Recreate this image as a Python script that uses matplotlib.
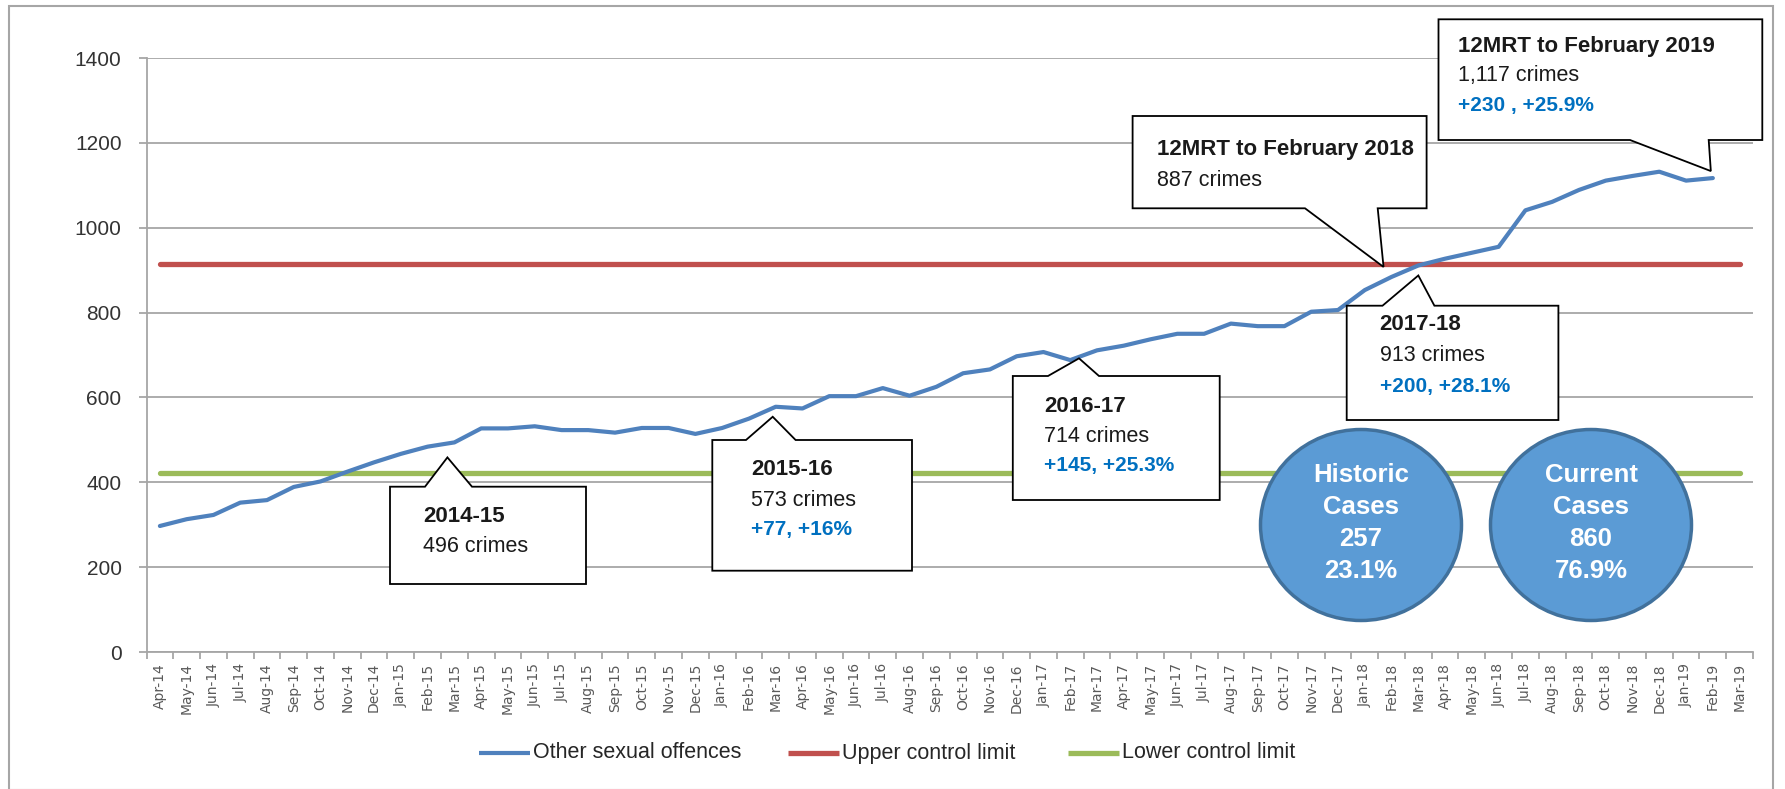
import matplotlib.pyplot as plt
from matplotlib.patches import Polygon, Ellipse, Rectangle
from matplotlib.lines import Line2D

plt.rcParams['font.family'] = ['Liberation Sans', 'DejaVu Sans']

# Monthly 12-month rolling totals, Other sexual offences
months = ['Apr-14', 'May-14', 'Jun-14', 'Jul-14', 'Aug-14', 'Sep-14', 'Oct-14', 'Nov-14', 'Dec-14',
          'Jan-15', 'Feb-15', 'Mar-15', 'Apr-15', 'May-15', 'Jun-15', 'Jul-15', 'Aug-15', 'Sep-15',
          'Oct-15', 'Nov-15', 'Dec-15', 'Jan-16', 'Feb-16', 'Mar-16', 'Apr-16', 'May-16', 'Jun-16',
          'Jul-16', 'Aug-16', 'Sep-16', 'Oct-16', 'Nov-16', 'Dec-16', 'Jan-17', 'Feb-17', 'Mar-17',
          'Apr-17', 'May-17', 'Jun-17', 'Jul-17', 'Aug-17', 'Sep-17', 'Oct-17', 'Nov-17', 'Dec-17',
          'Jan-18', 'Feb-18', 'Mar-18', 'Apr-18', 'May-18', 'Jun-18', 'Jul-18', 'Aug-18', 'Sep-18',
          'Oct-18', 'Nov-18', 'Dec-18', 'Jan-19', 'Feb-19', 'Mar-19']
offences = [297, 313, 323, 352, 358, 389, 402, 425, 447,
            467, 484, 494, 527, 527, 532, 523, 523, 517,
            528, 528, 514, 528, 550, 578, 574, 603, 603,
            622, 604, 625, 657, 666, 697, 707, 688, 711,
            722, 737, 750, 750, 774, 768, 768, 802, 806,
            853, 884, 911, 927, 941, 955, 1041, 1061, 1089,
            1111, 1122, 1132, 1111, 1117]
UCL = 914
LCL = 423

callout_months = ['Mar-15', 'Mar-16', 'Mar-17', 'Mar-18', 'Feb-18', 'Feb-19']
callout_titles = ['2014-15', '2015-16', '2016-17', '2017-18',
                  '12MRT to February 2018', '12MRT to February 2019']
callout_counts = ['496 crimes', '573 crimes', '714 crimes', '913 crimes', '887 crimes', '1,117 crimes']
callout_changes = ['', '+77, +16%', '+145, +25.3%', '+200, +28.1%', '', '+230 , +25.9%']

bubble_labels = [['Historic', 'Cases'], ['Current', 'Cases']]
bubble_counts = ['257', '860']
bubble_shares = ['23.1%', '76.9%']

W, H = 1785, 789


def fxy(x, y):
    # pixel (top-left origin) -> figure fraction
    return (x / W, 1 - y / H)


fig = plt.figure(figsize=(W / 100, H / 100), dpi=100)
fig.patch.set_facecolor('white')
fig.add_artist(Rectangle(fxy(9, 790), (1773 - 9) / W, (790 - 6) / H, transform=fig.transFigure,
                         fill=False, ec='#a6a6a6', lw=1.5))

ax = fig.add_axes([146.5 / W, 1 - 652 / H, (1753 - 146.5) / W, (652 - 58) / H])

x_all = list(range(len(months)))
x_obs = list(range(len(offences)))
l_ucl, = ax.plot(x_all, [UCL] * len(months), color='#C0504D', lw=3.8,
                 solid_capstyle='round', label='Upper control limit', zorder=3)
l_lcl, = ax.plot(x_all, [LCL] * len(months), color='#9BBB59', lw=3.8,
                 solid_capstyle='round', label='Lower control limit', zorder=3)
l_off, = ax.plot(x_obs, offences, color='#4F81BD', lw=3.0, solid_joinstyle='round',
                 solid_capstyle='round', label='Other sexual offences', zorder=4)

ax.set_xlim(-0.5, len(months) - 0.5)
ax.set_ylim(0, 1400)
ax.set_yticks(range(0, 1401, 200))
ax.yaxis.grid(True, color='#a6a6a6', lw=1.3)
ax.set_axisbelow(True)
ax.set_xticks(x_all)
ax.set_xticklabels(months, rotation=90, fontfamily='DejaVu Sans', fontsize=10, color='#595959')
ax.set_xticks([i - 0.5 for i in range(len(months) + 1)], minor=True)
ax.tick_params(axis='x', which='major', length=0, pad=8)
ax.tick_params(axis='x', which='minor', length=5, width=1.3, color='#a6a6a6')
ax.tick_params(axis='y', length=6, width=1.3, color='#a6a6a6', pad=12,
               labelsize=15, labelcolor='#333333')
for s in ['top', 'right']:
    ax.spines[s].set_visible(False)
for s in ['left', 'bottom']:
    ax.spines[s].set_color('#a6a6a6')
    ax.spines[s].set_linewidth(1.3)

# legend laid out like the Excel one: handle start x in px
for line, hx in zip([l_off, l_ucl, l_lcl], [479, 788, 1068]):
    (x0, y0), (x1, _) = fxy(hx, 753), fxy(hx + 51, 753)
    fig.add_artist(Line2D([x0, x1], [y0, y0], transform=fig.transFigure, color=line.get_color(),
                          lw=line.get_linewidth(), solid_capstyle='butt'))
    fig.text(*fxy(hx + 54, 753), line.get_label(), fontsize=15.5, color='#262626',
             ha='left', va='center')

# callout boxes: box (left, top, right, bottom) in px, pointer base, tip offset from the data point
layout = [
    dict(off=(-7, 15), box=(390, 486.7, 586, 584), base=(425, 472), side='top', tx=423, ty=[516.7, 546]),
    dict(off=(-3, 10), box=(712.3, 440, 912, 570.7), base=(746, 795.6), side='top', tx=750.8, ty=[470, 500, 530]),
    dict(off=(-18, 8), box=(1012.8, 376, 1219.7, 500), base=(1048, 1099), side='top', tx=1043.8, ty=[406, 436, 466]),
    dict(off=(0, 10), box=(1346.7, 305.7, 1558.4, 420), base=(1382.5, 1434.4), side='top', tx=1379.5, ty=[325, 356, 386]),
    dict(off=(-8, -10), box=(1132.6, 116, 1426.6, 208.3), base=(1305, 1377.7), side='bottom', tx=1157, ty=[150, 180]),
    dict(off=(-2, -7), box=(1438.5, 19.3, 1762.3, 140), base=(1630, 1708.7), side='bottom', tx=1458, ty=[46.7, 76, 106]),
]

for k, lay in enumerate(layout):
    i = months.index(callout_months[k])
    X, Y = ax.transData.transform((i, offences[i]))
    tip = (X + lay['off'][0], H - Y + lay['off'][1])
    left, top, right, bottom = lay['box']
    b0, b1 = lay['base']
    if lay['side'] == 'top':
        verts = [(left, top), (b0, top), tip, (b1, top), (right, top), (right, bottom), (left, bottom)]
    else:
        verts = [(left, top), (right, top), (right, bottom), (b1, bottom), tip, (b0, bottom), (left, bottom)]
    fig.add_artist(Polygon([fxy(*v) for v in verts], closed=True, transform=fig.transFigure,
                           fc='white', ec='black', lw=1.3, zorder=5))
    fig.text(*fxy(lay['tx'], lay['ty'][0]), callout_titles[k], fontsize=16, fontweight='bold',
             color='#1a1a1a', ha='left', va='center', zorder=6)
    fig.text(*fxy(lay['tx'], lay['ty'][1]), callout_counts[k], fontsize=15.5,
             color='#1a1a1a', ha='left', va='center', zorder=6)
    if callout_changes[k]:
        fig.text(*fxy(lay['tx'], lay['ty'][2]), callout_changes[k], fontsize=15, fontweight='bold',
                 color='#0070C0', ha='left', va='center', zorder=6)

# historic / current bubbles
for k, cx in enumerate([1361, 1591]):
    fig.add_artist(Ellipse(fxy(cx, 525), 201 / W, 191 / H, transform=fig.transFigure,
                           fc='#5B9BD5', ec='#41719C', lw=2.5, zorder=5))
    lines = bubble_labels[k] + [bubble_counts[k], bubble_shares[k]]
    for j, t in enumerate(lines):
        fig.text(*fxy(cx, 475 + 32 * j), t, fontsize=18.5, fontweight='bold', color='white',
                 ha='center', va='center', zorder=6)

fig.savefig('out.png', dpi=100, facecolor='white')
